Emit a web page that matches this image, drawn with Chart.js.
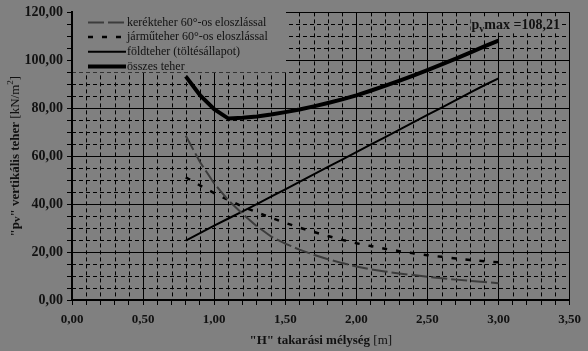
<!DOCTYPE html>
<html>
<head>
<meta charset="utf-8">
<script src="https://cdn.jsdelivr.net/npm/chart.js@4/dist/chart.umd.min.js"></script>
<style>
  html, body { margin: 0; padding: 0; background: #808080; }
  #wrap { width: 588px; height: 351px; }
</style>
</head>
<body>
<div id="wrap"><canvas id="loadChart" width="588" height="351"></canvas></div>
<script>
const depths = [0.8, 0.9, 1.0, 1.1, 1.2, 1.3, 1.4, 1.5, 1.6, 1.7, 1.8, 1.9, 2.0, 2.1, 2.2, 2.3, 2.4, 2.5, 2.6, 2.7, 2.8, 2.9, 3.0];

const wheelLoad = [68.5, 57.6, 48.6, 41.6, 35.9, 30.8, 26.5, 23.5, 21.0, 18.9, 17.0, 15.4, 14.0, 12.8, 11.9, 11.1, 10.4, 9.7, 9.1, 8.5, 8.0, 7.5, 7.0];
const vehicleLoad = [51.2, 47.8, 44.6, 41.7, 39.0, 36.6, 34.3, 32.2, 30.2, 28.4, 26.7, 25.1, 23.7, 22.5, 21.4, 20.4, 19.5, 18.7, 18.0, 17.3, 16.7, 16.2, 15.7];
const soilLoad = [24.8, 27.9, 31.0, 34.0, 37.0, 40.0, 43.1, 46.2, 49.3, 52.4, 55.5, 58.6, 61.7, 64.8, 67.9, 71.0, 74.1, 77.2, 80.3, 83.4, 86.5, 89.6, 92.5];
const totalLoad = [93.3, 85.5, 79.6, 75.7, 76.0, 76.6, 77.4, 78.4, 79.5, 80.8, 82.2, 83.7, 85.4, 87.3, 89.3, 91.4, 93.6, 95.9, 98.3, 100.7, 103.2, 105.8, 108.21];

const seriesLabels = ['kerékteher 60°-os eloszlással', 'járműteher 60°-os eloszlással', 'földteher (töltésállapot)', 'összes teher'];
const maxLabel = { pre: 'p', sub: 'v', post: 'max =108,21', at: 3.0, value: 108.21 };

const BG = '#808080';
const SERIF = '"Liberation Serif", "Times New Roman", serif';

const toPoints = vals => depths.map((h, i) => ({ x: h, y: vals[i] }));
const isMajor = (v, step) => Math.abs(v / step - Math.round(v / step)) < 1e-6;
const fmt = v => v.toFixed(2).replace('.', ',');

// dashed minor grid, legend box, max label and axis titles
const decorPlugin = {
  id: 'decor',
  beforeDatasetsDraw(chart) {
    const { ctx, chartArea: a, scales: { x, y } } = chart;
    ctx.save();
    ctx.strokeStyle = '#000';
    ctx.lineWidth = 1;
    ctx.setLineDash([4, 3]);
    x.ticks.forEach(t => {
      if (isMajor(t.value, 0.5)) return;
      const px = Math.round(x.getPixelForValue(t.value)) + 0.5;
      ctx.beginPath(); ctx.moveTo(px, a.top); ctx.lineTo(px, a.bottom); ctx.stroke();
    });
    y.ticks.forEach(t => {
      if (isMajor(t.value, 20)) return;
      const py = Math.round(y.getPixelForValue(t.value)) + 0.5;
      ctx.beginPath(); ctx.moveTo(a.left, py); ctx.lineTo(a.right, py); ctx.stroke();
    });
    ctx.setLineDash([]);

    // legend box masks the grid
    ctx.fillStyle = BG;
    ctx.fillRect(a.left + 1, a.top - 1, 213, 61);
    ctx.font = '12px ' + SERIF;
    ctx.textBaseline = 'middle';
    chart.data.datasets.forEach((ds, i) => {
      const ly = a.top + 10 + i * 14.7;
      ctx.strokeStyle = ds.borderColor;
      ctx.lineWidth = ds.borderWidth;
      ctx.setLineDash(ds.borderDash || []);
      ctx.beginPath(); ctx.moveTo(88, ly); ctx.lineTo(126, ly); ctx.stroke();
      ctx.setLineDash([]);
      ctx.fillStyle = '#111';
      ctx.fillText(ds.label, 127, ly);
    });

    // max label
    const mx = x.getPixelForValue(maxLabel.at) - 27;
    const my = y.getPixelForValue(maxLabel.value) - 16;
    ctx.font = 'bold 14px ' + SERIF;
    const w1 = ctx.measureText(maxLabel.pre).width;
    ctx.font = 'bold 10px ' + SERIF;
    const w2 = ctx.measureText(maxLabel.sub).width;
    ctx.font = 'bold 14px ' + SERIF;
    const w3 = ctx.measureText(maxLabel.post).width;
    ctx.fillStyle = BG;
    ctx.fillRect(mx - 1, my - 8, w1 + w2 + w3 + 2, 16);
    ctx.fillStyle = '#111';
    ctx.textBaseline = 'alphabetic';
    ctx.fillText(maxLabel.pre, mx, my + 4);
    ctx.font = 'bold 10px ' + SERIF;
    ctx.fillText(maxLabel.sub, mx + w1, my + 7);
    ctx.font = 'bold 14px ' + SERIF;
    ctx.fillText(maxLabel.post, mx + w1 + w2, my + 4);
    ctx.restore();
  },
  afterDraw(chart) {
    const { ctx, chartArea: a } = chart;
    const drawParts = (parts, cx, cy) => {
      let total = 0;
      parts.forEach(p => { ctx.font = p.font; p.w = ctx.measureText(p.t).width; total += p.w; });
      let cur = cx - total / 2;
      parts.forEach(p => {
        ctx.font = p.font;
        ctx.fillText(p.t, cur, cy + (p.dy || 0));
        cur += p.w;
      });
    };
    ctx.save();
    ctx.fillStyle = '#111';
    ctx.textBaseline = 'alphabetic';
    const B = 'bold 13px ' + SERIF, N = '13px ' + SERIF;
    drawParts([
      { t: '"H" takarási mélység ', font: B },
      { t: '[m]', font: N }
    ], (a.left + a.right) / 2, 344);

    ctx.translate(19, (a.top + a.bottom) / 2);
    ctx.rotate(-Math.PI / 2);
    drawParts([
      { t: '"p', font: B },
      { t: 'v', font: 'bold 11px ' + SERIF, dy: 1 },
      { t: '" vertikális teher ', font: B },
      { t: '[kN/m', font: N },
      { t: '2', font: '9px ' + SERIF, dy: -6 },
      { t: ']', font: N }
    ], 0, 0);
    ctx.restore();
  }
};

new Chart(document.getElementById('loadChart'), {
  type: 'line',
  data: {
    datasets: [
      { label: seriesLabels[0], data: toPoints(wheelLoad), borderColor: '#3c3c3c', borderWidth: 2, borderDash: [16, 4] },
      { label: seriesLabels[1], data: toPoints(vehicleLoad), borderColor: '#000', borderWidth: 2.5, borderDash: [5, 9] },
      { label: seriesLabels[2], data: toPoints(soilLoad), borderColor: '#000', borderWidth: 2 },
      { label: seriesLabels[3], data: toPoints(totalLoad), borderColor: '#000', borderWidth: 4 }
    ]
  },
  options: {
    responsive: false,
    animation: false,
    devicePixelRatio: 1,
    layout: { padding: { top: 5, right: 14, left: 0, bottom: 0 } },
    elements: { point: { radius: 0 }, line: { tension: 0, fill: false } },
    plugins: { legend: { display: false }, tooltip: { enabled: false } },
    scales: {
      x: {
        type: 'linear', min: 0, max: 3.5,
        afterFit: s => { s.height = 51; },
        border: { color: '#000', width: 2 },
        grid: {
          color: c => isMajor(c.tick.value, 0.5) ? '#000' : 'rgba(0,0,0,0)',
          tickColor: '#000', tickLength: 5, lineWidth: 1
        },
        ticks: {
          stepSize: 0.1, maxTicksLimit: 100, autoSkip: false, maxRotation: 0, padding: 7,
          color: '#111', font: { family: SERIF, size: 13, weight: 'bold' },
          callback: v => isMajor(v, 0.5) ? fmt(v) : ''
        }
      },
      y: {
        min: 0, max: 120,
        afterFit: s => { s.width = 72; },
        border: { color: '#000', width: 2 },
        grid: {
          color: c => isMajor(c.tick.value, 20) ? '#000' : 'rgba(0,0,0,0)',
          tickColor: '#000', tickLength: 5, lineWidth: 1
        },
        ticks: {
          stepSize: 5, maxTicksLimit: 100, autoSkip: false, padding: 4,
          color: '#111', font: { family: SERIF, size: 14, weight: 'bold' },
          callback: v => isMajor(v, 20) ? fmt(v) : ''
        }
      }
    }
  },
  plugins: [decorPlugin]
});
</script>
</body>
</html>
